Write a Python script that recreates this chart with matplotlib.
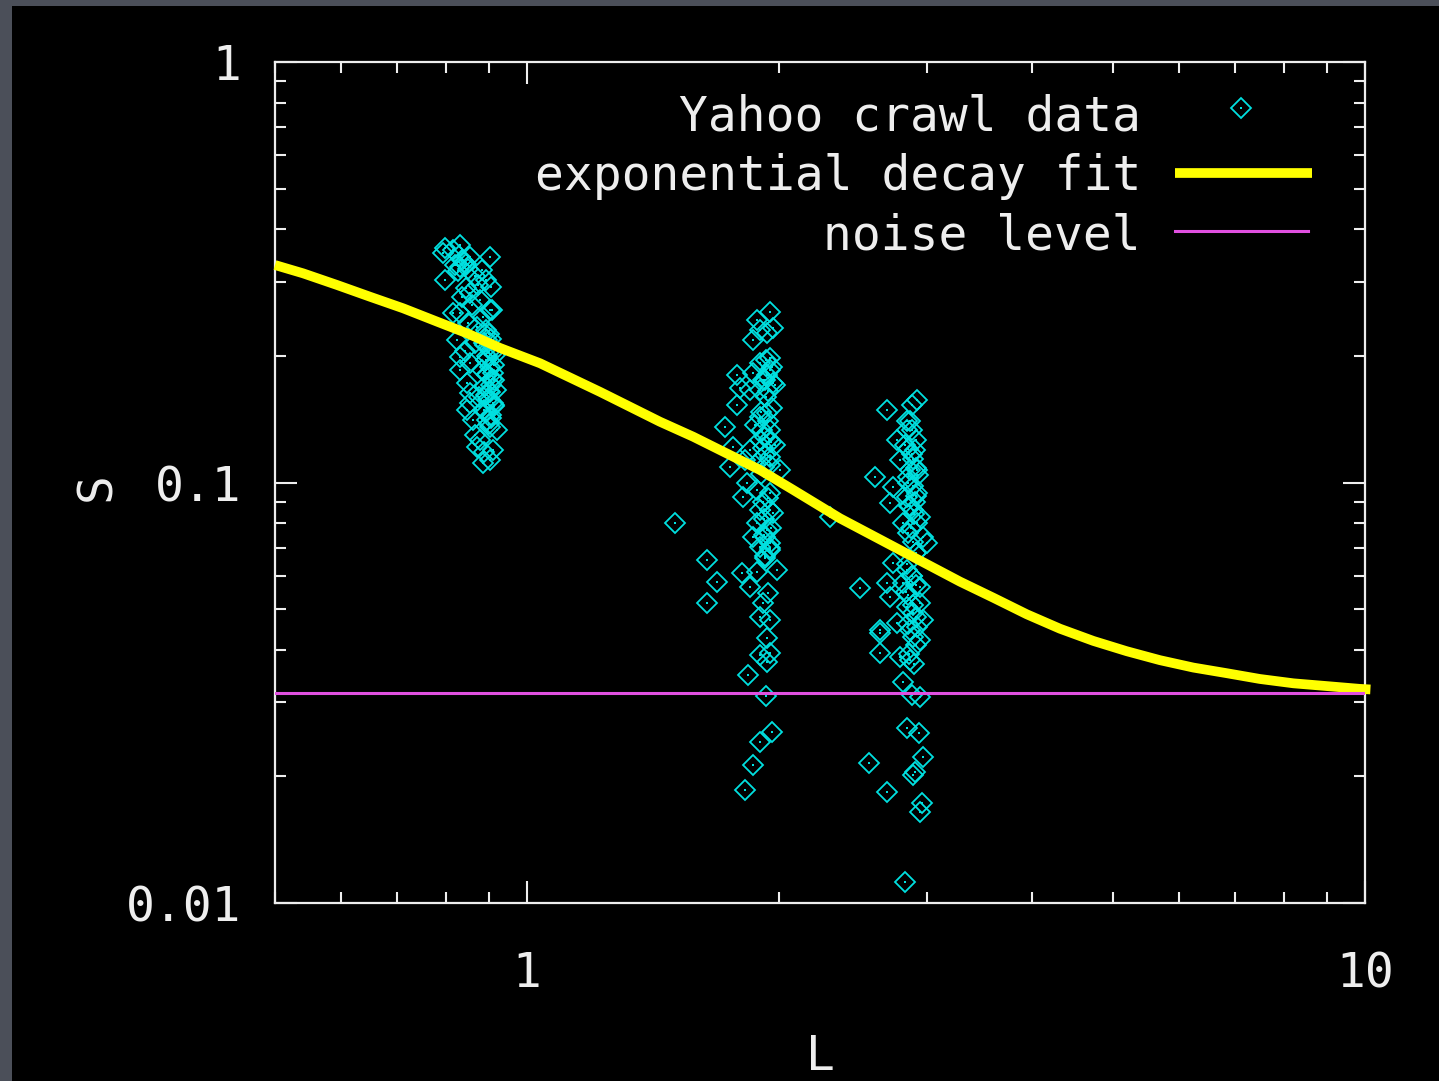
import matplotlib
matplotlib.use("Agg")
import matplotlib.pyplot as plt
from matplotlib.patches import Rectangle
from matplotlib.ticker import FixedLocator, FixedFormatter, LogLocator, NullFormatter

# Yahoo crawl data, three groups of L
group1_L = [0.798, 0.831, 0.794, 0.815, 0.855, 0.903, 0.798, 0.831, 0.820, 0.883,
            0.894, 0.906, 0.837, 0.855, 0.878, 0.831, 0.815, 0.885, 0.908, 0.894,
            0.871, 0.824, 0.831, 0.831, 0.896, 0.906, 0.893, 0.913, 0.896, 0.906,
            0.893, 0.903, 0.913, 0.855, 0.848, 0.855, 0.855, 0.848, 0.910, 0.862,
            0.903, 0.920, 0.878, 0.871, 0.903, 0.910, 0.885, 0.891, 0.915, 0.883,
            0.918, 0.887, 0.896, 0.903, 0.873, 0.840, 0.826, 0.866, 0.845, 0.860,
            0.850, 0.866, 0.842, 0.876, 0.866, 0.889, 0.900, 0.910, 0.900, 0.905,
            0.895, 0.912,
            # dense part of the first column
            0.835, 0.845, 0.828, 0.850, 0.890, 0.905, 0.898, 0.910, 0.892, 0.903,
            0.896, 0.908, 0.890, 0.902, 0.898, 0.912, 0.894, 0.906, 0.900, 0.888]
group1_S = [0.361, 0.367, 0.351, 0.357, 0.344, 0.344, 0.303, 0.326, 0.329, 0.320,
            0.303, 0.292, 0.276, 0.282, 0.272, 0.253, 0.253, 0.247, 0.257, 0.2305,
            0.234, 0.218, 0.199, 0.185, 0.218, 0.2066, 0.1956, 0.190, 0.180, 0.1705,
            0.1614, 0.157, 0.153, 0.192, 0.1724, 0.1633, 0.1546, 0.1488, 0.1546, 0.1408,
            0.1355, 0.1333, 0.1262, 0.1215, 0.1131, 0.1195, 0.1113, 0.212, 0.201, 0.185,
            0.166, 0.1488, 0.1408, 0.257, 0.295, 0.335, 0.318, 0.309, 0.290, 0.265,
            0.240, 0.215, 0.205, 0.160, 0.130, 0.118, 0.225, 0.182, 0.165, 0.145,
            0.200, 0.175,
            0.338, 0.330, 0.345, 0.322, 0.225, 0.219, 0.210, 0.204, 0.196, 0.188,
            0.181, 0.176, 0.170, 0.164, 0.158, 0.152, 0.147, 0.142, 0.138, 0.215]

group2_L = [1.949, 1.881, 1.965, 1.896, 1.860, 1.933, 1.949, 1.896, 1.860, 1.949,
            1.922, 1.976, 1.896, 1.779, 1.795, 1.845, 1.779, 1.722, 1.896, 1.933,
            1.870, 1.949, 1.896, 1.976, 1.922, 1.845, 1.820, 1.949, 2.004, 1.760,
            1.746, 1.830, 1.810, 1.881, 1.949, 1.896, 1.965, 1.881, 1.933, 1.860,
            1.949, 1.503, 2.298, 1.896, 1.949, 1.639, 1.685, 1.639, 1.805, 1.881,
            1.987, 1.845, 1.938, 1.912, 1.896, 1.949, 1.933, 1.896, 1.949, 1.933,
            1.835, 1.928, 1.960, 1.896, 1.860, 1.820, 1.910, 1.930, 1.960, 1.920,
            1.900, 1.940, 1.915, 1.925, 1.900, 1.955,
            # dense parts of the second column
            1.930, 1.960, 1.935, 1.965, 1.940, 1.900, 1.940, 1.905, 1.945, 1.910,
            1.950, 1.915, 1.910, 1.950, 1.915, 1.955, 1.920, 1.950, 1.925]
group2_S = [0.2543, 0.243, 0.233, 0.2305, 0.218, 0.2267, 0.1978, 0.1924, 0.1821, 0.185,
            0.1753, 0.1705, 0.166, 0.180, 0.1678, 0.166, 0.1529, 0.1355, 0.1431, 0.1463,
            0.1370, 0.1333, 0.1262, 0.1228, 0.1163, 0.1195, 0.1131, 0.110, 0.1071, 0.1215,
            0.1088, 0.0997, 0.0923, 0.0960, 0.0944, 0.0860, 0.0846, 0.0801, 0.0771, 0.0742,
            0.0718, 0.0801, 0.0828, 0.0702, 0.0691, 0.0654, 0.0580, 0.0517, 0.0609, 0.0613,
            0.0619, 0.0564, 0.0546, 0.0517, 0.0479, 0.0471, 0.0427, 0.0389, 0.0393, 0.0374,
            0.0348, 0.0311, 0.0255, 0.0241, 0.0213, 0.0186, 0.175, 0.160, 0.150, 0.128,
            0.105, 0.092, 0.075, 0.066, 0.1135, 0.125,
            0.196, 0.188, 0.180, 0.172, 0.165, 0.147, 0.140, 0.133, 0.127, 0.121,
            0.115, 0.109, 0.090, 0.086, 0.082, 0.078, 0.074, 0.070, 0.067]

group3_L = [2.689, 2.880, 2.920, 2.841, 2.764, 2.825, 2.904, 2.786, 2.864, 2.928,
            2.602, 2.920, 2.734, 2.711, 2.841, 2.920, 2.888, 2.944, 2.809, 2.969,
            3.001, 2.734, 2.841, 2.496, 2.689, 2.809, 2.944, 2.711, 2.841, 2.944,
            2.969, 2.638, 2.764, 2.864, 2.638, 2.920, 2.944, 2.638, 2.786, 2.864,
            2.809, 2.880, 2.944, 2.841, 2.936, 2.969, 2.559, 2.888, 2.689, 2.961,
            2.944, 2.825, 2.860, 2.880, 2.850, 2.900, 2.870, 2.910, 2.880, 2.830,
            2.890, 2.860, 2.900,
            # dense part of the third column
            2.840, 2.880, 2.910, 2.850, 2.890, 2.915, 2.845, 2.885, 2.912, 2.855,
            2.895, 2.918, 2.850, 2.890, 2.915, 2.840, 2.880, 2.910, 2.850, 2.890,
            2.915, 2.845, 2.885, 2.910, 2.855, 2.895]
group3_S = [0.1488, 0.1529, 0.157, 0.1333, 0.1262, 0.1228, 0.1195, 0.1131, 0.1071, 0.1042,
            0.1030, 0.1071, 0.0976, 0.0894, 0.0923, 0.0944, 0.0860, 0.0828, 0.0801, 0.0742,
            0.0718, 0.0644, 0.0619, 0.0561, 0.0577, 0.0577, 0.0564, 0.0534, 0.0506, 0.0517,
            0.0471, 0.0446, 0.0463, 0.0446, 0.0439, 0.0453, 0.0422, 0.0393, 0.0385, 0.0378,
            0.0335, 0.0312, 0.0309, 0.0261, 0.0254, 0.0222, 0.0215, 0.0202, 0.0184, 0.0173,
            0.0165, 0.0112, 0.140, 0.117, 0.100, 0.090, 0.078, 0.068, 0.060, 0.055,
            0.049, 0.088, 0.0205,
            0.140, 0.133, 0.126, 0.120, 0.114, 0.108, 0.103, 0.098, 0.093, 0.088,
            0.084, 0.080, 0.076, 0.072, 0.068, 0.064, 0.060, 0.057, 0.054, 0.051,
            0.048, 0.046, 0.043, 0.041, 0.039, 0.037]

# exponential decay fit
fit_L = [0.5, 0.540, 0.593, 0.649, 0.711, 0.781, 0.848, 0.928, 1.036, 1.222,
         1.440, 1.578, 1.730, 1.896, 2.078, 2.362, 2.786, 3.286, 3.601, 3.947,
         4.325, 4.740, 5.195, 5.691, 6.238, 6.837, 7.491, 8.214, 9.000, 9.863, 10.15]
fit_S = [0.3290, 0.3144, 0.2949, 0.2766, 0.2596, 0.2412, 0.2263, 0.2089, 0.1921, 0.1642,
         0.1395, 0.1285, 0.1173, 0.1071, 0.0960, 0.0822, 0.0691, 0.0581, 0.0532, 0.0486,
         0.0449, 0.0420, 0.0397, 0.0378, 0.0363, 0.0352, 0.0341, 0.0333, 0.0328, 0.0323, 0.0322]

noise_level = 0.0316

labels = ["Yahoo crawl data", "exponential decay fit", "noise level"]

FONT = "DejaVu Sans Mono"
FS = 34.5
FG = "#eeeeee"
CYAN = "#00e0e0"

fig = plt.figure(figsize=(14.39, 10.81), dpi=100, facecolor="#4b4f59")
fig.patches.append(Rectangle((12 / 1439, 0), 1 - 12 / 1439, 1 - 6 / 1081,
                             transform=fig.transFigure, facecolor="black",
                             edgecolor="none", zorder=-10))

ax = fig.add_axes([275 / 1439, 178 / 1081, 1090 / 1439, 841 / 1081])
ax.set_facecolor("black")
ax.set_xscale("log")
ax.set_yscale("log")
ax.set_xlim(0.5, 10)
ax.set_ylim(0.01, 1)

# data points: open diamond with a dot in the middle
all_L = group1_L + group2_L + group3_L
all_S = group1_S + group2_S + group3_S
ax.plot(all_L, all_S, ls="none", marker="D", ms=10.5, mfc="none", mec=CYAN, mew=1.3, zorder=3)
ax.plot(all_L, all_S, ls="none", marker="s", ms=1.6, mfc=CYAN, mec=CYAN, mew=0, zorder=3)

ax.plot(fit_L, fit_S, color="#ffff00", lw=7, solid_capstyle="butt", zorder=4, clip_on=False)
ax.axhline(noise_level, color="#e050e0", lw=2.2, zorder=5)

# axes frame and ticks
for sp in ax.spines.values():
    sp.set_color(FG)
    sp.set_linewidth(1.6)
ax.tick_params(which="both", direction="in", top=True, right=True, color=FG, width=1.5)
ax.tick_params(which="major", length=16, pad=24, labelsize=FS, labelcolor=FG)
ax.tick_params(which="minor", length=8)
ax.tick_params(axis="x", which="major", pad=34)

ax.xaxis.set_major_locator(FixedLocator([1, 10]))
ax.xaxis.set_major_formatter(FixedFormatter(["1", "10"]))
ax.xaxis.set_minor_locator(LogLocator(base=10, subs=range(2, 10)))
ax.xaxis.set_minor_formatter(NullFormatter())
ax.yaxis.set_major_locator(FixedLocator([0.01, 0.1, 1]))
ax.yaxis.set_major_formatter(FixedFormatter(["0.01", "0.1", "1"]))
ax.yaxis.set_minor_locator(LogLocator(base=10, subs=range(2, 10)))
ax.yaxis.set_minor_formatter(NullFormatter())
for lab in ax.get_xticklabels() + ax.get_yticklabels():
    lab.set_family(FONT)

# axis labels
fig.text(820 / 1439, 1 - 1056 / 1081, "L", family=FONT, fontsize=FS, color=FG,
         ha="center", va="center")
fig.text(97 / 1439, 1 - 487 / 1081, "S", family=FONT, fontsize=FS, color=FG,
         ha="center", va="center", rotation=90)

# legend, gnuplot style: right aligned text, sample to the right
text_x = 0.7945
rows_text = [0.9191, 0.8478, 0.7765]
rows_mark = [0.9453, 0.8680, 0.7990]
for lab, ty in zip(labels, rows_text):
    ax.text(text_x, ty, lab, transform=ax.transAxes, family=FONT, fontsize=FS,
            color=FG, ha="right", va="baseline")
ax.plot([0.8862], [rows_mark[0]], transform=ax.transAxes, ls="none", marker="D", ms=10.5,
        mfc="none", mec=CYAN, mew=1.3)
ax.plot([0.8862], [rows_mark[0]], transform=ax.transAxes, ls="none", marker="s", ms=1.6,
        mfc=CYAN, mew=0)
ax.plot([0.8257, 0.9514], [rows_mark[1]] * 2, transform=ax.transAxes, color="#ffff00",
        lw=7, solid_capstyle="butt")
ax.plot([0.8257, 0.9477], [rows_mark[2]] * 2, transform=ax.transAxes, color="#e050e0",
        lw=2.2)

fig.savefig("out.png", dpi=100, facecolor=fig.get_facecolor())
